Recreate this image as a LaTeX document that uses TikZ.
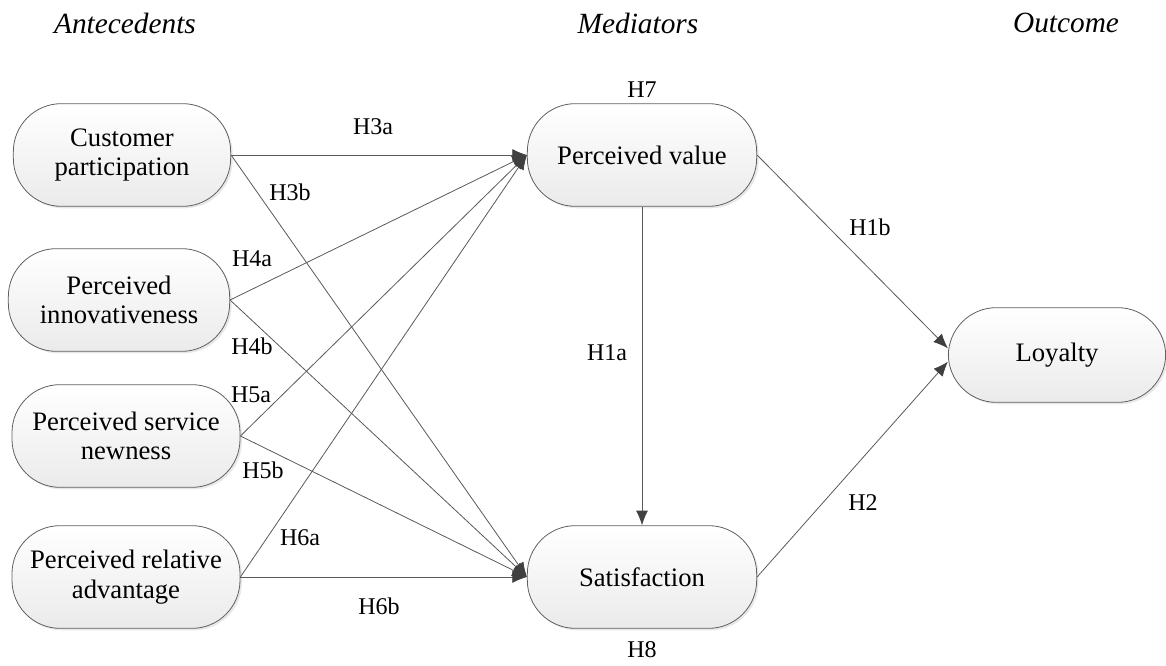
\documentclass[tikz,border=0pt]{standalone}
\usepackage{fontspec}
\setmainfont{Liberation Serif}
\usetikzlibrary{arrows.meta,shadows}

\begin{document}
\begin{tikzpicture}[x=0.75pt, y=-0.75pt,
    construct/.style={draw=gray!75!black, line width=0.6pt, rounded corners=36pt,
        top color=white, bottom color=gray!16,
        drop shadow={opacity=0.18, shadow xshift=1.5pt, shadow yshift=-1.5pt},
        align=center, font=\fontsize{20}{22}\selectfont,
        minimum width=172pt, minimum height=77pt, inner sep=0pt},
    link/.style={draw=gray!70!black, line width=0.6pt,
        -{Latex[length=11pt,width=9pt,fill=black!75,color=black!75]}},
    hyp/.style={font=\fontsize{18}{20}\selectfont},
    group/.style={font=\itshape\fontsize{22}{24}\selectfont}]
    \useasboundingbox (0,0) rectangle (1166,666);

    % Column headers
    \node[group] (antecedents) at (125,23) {Antecedents};
    \node[group] (mediators) at (638,23) {Mediators};
    \node[group] (outcome) at (1066,23) {Outcome};

    % Antecedents
    \node[construct, minimum width=163pt] (cp) at (122,155) {Customer\\participation};
    \node[construct, minimum width=166pt] (pi) at (119,300) {Perceived\\innovativeness};
    \node[construct, minimum width=171pt] (psn) at (126,436) {Perceived service\\newness};
    \node[construct, minimum width=171pt] (pra) at (126,577) {Perceived relative\\advantage};

    % Mediators and outcome
    \node[construct] (pv) at (642,155) {Perceived value};
    \node[construct] (sat) at (642,577) {Satisfaction};
    \node[construct, minimum width=163pt, minimum height=71pt] (loy) at (1057,355) {Loyalty};

    % Paths
    \foreach \src in {cp,pi,psn,pra} {
        \draw[link] (\src.east) -- (pv.west);
        \draw[link] (\src.east) -- (sat.west);
    }
    \draw[link] (pv.south) -- (sat.north);
    \draw[link] (pv.east) -- ([yshift=5pt]loy.west);
    \draw[link] (sat.east) -- ([yshift=-5pt]loy.west);

    % Hypothesis labels
    \foreach \lab/\px/\py in {H3a/373/127, H3b/290/192, H4a/252/259, H4b/252/346,
        H5a/251/395, H5b/263/470, H6a/300/538, H6b/379/606,
        H7/642/90, H8/642/650, H1a/607/353, H1b/870/227, H2/863/503} {
        \node[hyp] (\lab) at (\px,\py) {\lab};
    }
\end{tikzpicture}
\end{document}
